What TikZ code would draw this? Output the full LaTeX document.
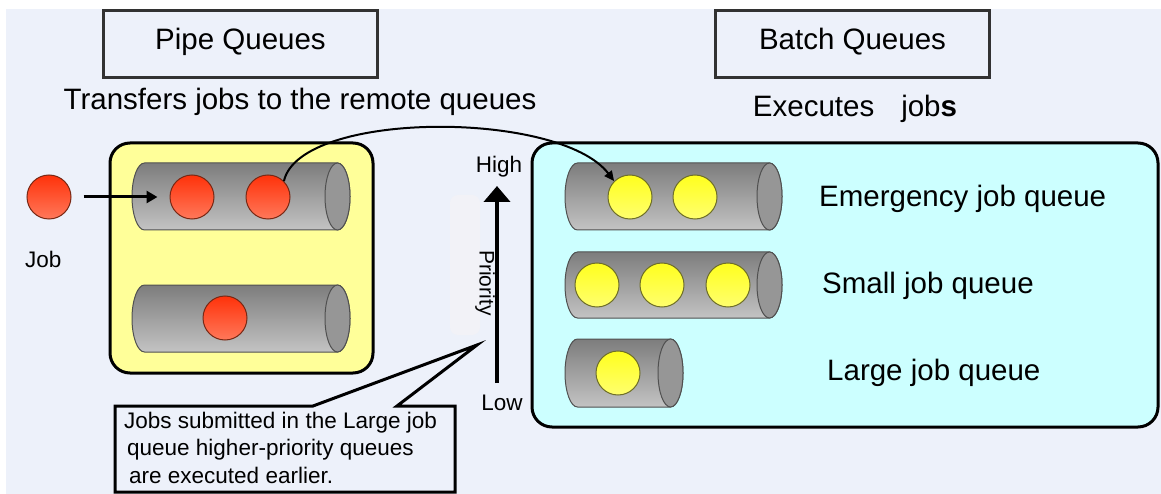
\documentclass[tikz,border=0pt]{standalone}
\usepackage{fontspec}
\setmainfont{Liberation Sans}
\usetikzlibrary{arrows.meta}
\definecolor{bgc}{RGB}{237,241,250}
\definecolor{pipefill}{RGB}{255,255,153}
\definecolor{batchfill}{RGB}{204,255,255}
\definecolor{cyltop}{RGB}{125,125,125}
\definecolor{cylbot}{RGB}{195,195,195}
\definecolor{cylend}{RGB}{150,150,150}
\definecolor{cyledge}{RGB}{80,80,80}
\definecolor{redtop}{RGB}{255,50,10}
\definecolor{redbot}{RGB}{255,120,90}
\definecolor{rededge}{RGB}{120,40,20}
\definecolor{yeltop}{RGB}{255,255,30}
\definecolor{yelbot}{RGB}{255,255,110}
\definecolor{yeledge}{RGB}{110,110,40}
\definecolor{faint}{RGB}{242,242,247}
\definecolor{boxedge}{RGB}{50,50,50}
\newcommand{\qcyl}[5]{%
  \pgfmathsetmacro{\cry}{(#4-#3)/2}%
  \pgfmathsetmacro{\cxr}{#2-#5}%
  \pgfmathsetmacro{\cxl}{#1+#5}%
  \pgfmathsetmacro{\cym}{(#3+#4)/2}%
  \shade[top color=cyltop,bottom color=cylbot,draw=cyledge,line width=1pt]
    (\cxl,#3) -- (\cxr,#3) arc[start angle=-90,end angle=90,x radius=#5,y radius=\cry]
    -- (\cxl,#4) arc[start angle=90,end angle=270,x radius=#5,y radius=\cry] -- cycle;
  \filldraw[fill=cylend,draw=cyledge,line width=1pt] (\cxr,\cym) ellipse[x radius=#5,y radius=\cry];
}
\tikzset{
  redball/.style={circle,minimum size=44pt,inner sep=0pt,top color=redtop,bottom color=redbot,draw=rededge,line width=1pt},
  yelball/.style={circle,minimum size=44pt,inner sep=0pt,top color=yeltop,bottom color=yelbot,draw=yeledge,line width=1pt},
  titlebox/.style={draw=boxedge,line width=3pt,minimum width=274pt,minimum height=67pt,inner sep=0pt,
    font=\fontsize{29.5}{34}\selectfont,text height=20pt,text depth=8pt},
  bigtext/.style={font=\fontsize{29.5}{34}\selectfont,inner sep=0pt},
  smalltext/.style={font=\fontsize{22.5}{27}\selectfont,inner sep=0pt},
  flow/.style={line width=3pt,-{Triangle[length=11pt,width=12pt]}}
}
\begin{document}
\begin{tikzpicture}[x=1pt,y=-1pt]
\useasboundingbox (0,0) rectangle (1161,494);
\fill[white] (0,0) rectangle (1161,494);
\fill[bgc] (6,9) rectangle (1161,494);

% title boxes
\node[titlebox] (pipe) at (240.5,44) {Pipe Queues};
\node[titlebox] (batch) at (852.5,44) {Batch Queues};
\node[bigtext,anchor=base] (pipedesc) at (300,110) {Transfers jobs to the remote queues};
\node[bigtext,anchor=base] (batchdesc) at (855,117) {Executes\hspace{27pt}job\textbf{s}};

% containers
\draw[fill=pipefill,line width=3pt,rounded corners=20pt] (110,143) rectangle (373,373);
\draw[fill=batchfill,line width=3pt,rounded corners=20pt] (532,143) rectangle (1158,427);

% faint strip
\fill[faint,rounded corners=8pt] (450,195) rectangle (480,335);

% pipe queues
\qcyl{132}{350}{163}{230}{12.5}
\qcyl{132}{350}{285}{352}{12.5}
% batch queues
\qcyl{565}{782}{163}{230}{12.5}
\qcyl{565}{782}{252}{318}{12.5}
\qcyl{565}{683}{339}{407}{12.5}

% jobs
\node[redball] (job) at (49,197) {};
\node[redball] (p1a) at (192,197) {};
\node[redball] (p1b) at (268,197) {};
\node[redball] (p2a) at (225,318) {};
\node[yelball] (e1) at (630,197) {};
\node[yelball] (e2) at (695,197) {};
\node[yelball] (s1) at (597,285) {};
\node[yelball] (s2) at (662,285) {};
\node[yelball] (s3) at (728,285) {};
\node[yelball] (l1) at (618,373) {};

\node[smalltext,anchor=base west] (joblbl) at (25,268) {Job};

% arrows
\draw[flow,shorten <=12pt,shorten >=12pt] (job) -- (p1a);
\draw[line width=2pt,-{Triangle[length=10pt,width=9pt]}] (p1b.45) .. controls (300,110) and (560,110) .. (e1.135);

% priority axis
\node[smalltext,anchor=base] (high) at (499,173) {High};
\node[smalltext,anchor=base] (low) at (502,410) {Low};
\coordinate (plow) at (497,383);
\coordinate (phigh) at (497,186);
\draw[line width=4pt,-{Triangle[length=16pt,width=26pt]}] (plow) -- (phigh);
\node[font=\fontsize{21}{25}\selectfont,inner sep=0pt,rotate=-90] (prio) at (485,283) {Priority};

% queue labels
\node[bigtext,anchor=base west] (emlbl) at (819,207) {Emergency job queue};
\node[bigtext,anchor=base west] (smlbl) at (822,293) {Small job queue};
\node[bigtext,anchor=base west] (lglbl) at (827,380) {Large job queue};

% callout
\coordinate (tip) at (477,345);
\draw[fill=bgc,line width=3pt,line join=miter] (115,406) -- (313,406) -- (tip) -- (397,406) -- (455,406) -- (455,492) -- (115,492) -- cycle;
\node[smalltext,anchor=base west] (note1) at (124,428) {Jobs submitted in the Large job};
\node[smalltext,anchor=base west] (note2) at (127,455) {queue higher-priority queues};
\node[smalltext,anchor=base west] (note3) at (129,483) {are executed earlier.};
\end{tikzpicture}
\end{document}
